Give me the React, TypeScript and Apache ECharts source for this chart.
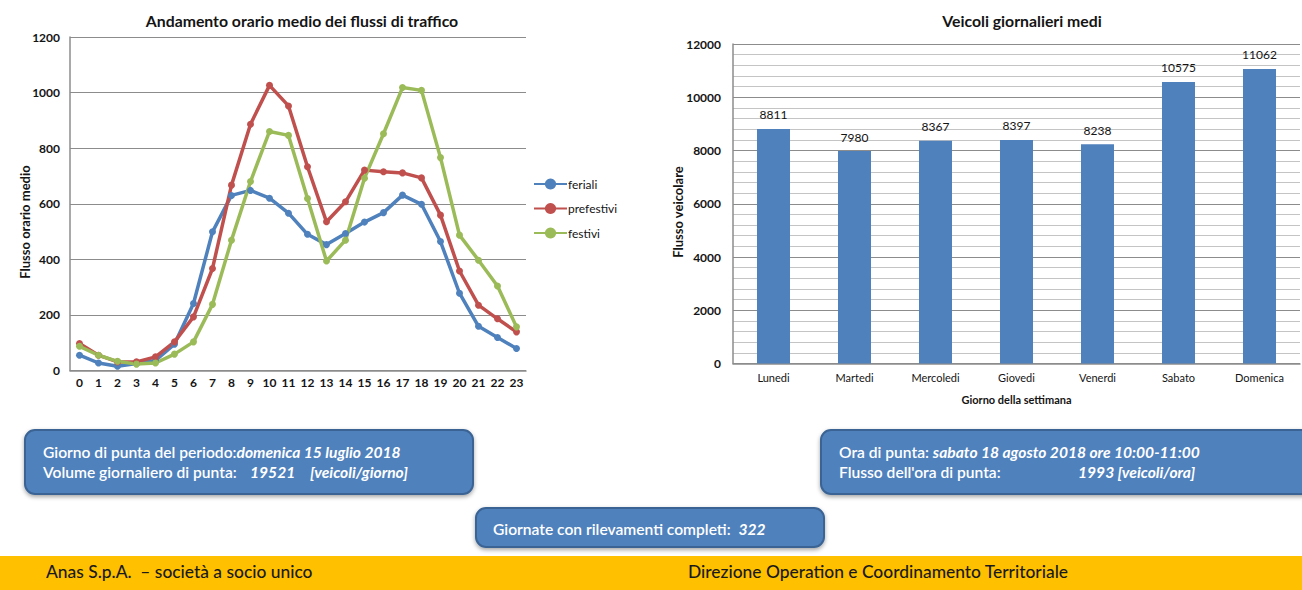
import React, { useEffect, useRef } from "react";
import * as echarts from "echarts";

// Hourly average traffic flow (vehicles/hour) by day type
const hours = ["0","1","2","3","4","5","6","7","8","9","10","11","12","13","14","15","16","17","18","19","20","21","22","23"];
const feriali = [55, 27, 15, 25, 36, 95, 241, 499, 630, 648, 620, 566, 490, 453, 493, 534, 568, 631, 598, 464, 278, 159, 119, 79];
const prefestivi = [97, 55, 31, 31, 49, 103, 193, 367, 667, 886, 1026, 952, 733, 535, 607, 721, 715, 711, 693, 559, 358, 235, 186, 139];
const festivi = [87, 55, 33, 23, 27, 59, 103, 238, 469, 680, 860, 846, 619, 394, 469, 692, 852, 1018, 1008, 766, 487, 397, 304, 157];

// Average daily vehicles by weekday
const giorni = ["Lunedi", "Martedi", "Mercoledi", "Giovedi", "Venerdi", "Sabato", "Domenica"];
const veicoliMedi = [8811, 7980, 8367, 8397, 8238, 10575, 11062];

const FONT = "Lato, 'DejaVu Sans', sans-serif";
const TXT = "#141414";
const BOX_FILL = "#4F81BD";
const BOX_STROKE = "#3A6494";
const BOX_FS = 15.6;

const box = (x: number, y: number, w: number, h: number) => ({
  type: "rect",
  shape: { x, y, width: w, height: h, r: 10 },
  style: {
    fill: BOX_FILL,
    stroke: BOX_STROKE,
    lineWidth: 2,
    shadowBlur: 4,
    shadowOffsetY: 2,
    shadowColor: "rgba(0,0,0,0.35)",
  },
  z: 10,
});

const rich = {
  r: { fill: "#fff", fontFamily: FONT, fontSize: BOX_FS, fontWeight: 600 },
  b: { fill: "#fff", fontFamily: FONT, fontSize: BOX_FS, fontWeight: "bold", fontStyle: "italic" },
};

const txt = (x: number, y: number, text: string, extra: any = {}) => ({
  type: "text",
  x,
  y,
  z: 11,
  style: {
    text,
    rich,
    fill: "#fff",
    fontFamily: FONT,
    fontSize: BOX_FS,
    fontWeight: 600,
    verticalAlign: "middle",
    ...extra,
  },
});

const axisName = (x: number, y: number, text: string) => ({
  type: "text",
  x,
  y,
  rotation: Math.PI / 2,
  style: {
    text,
    fill: TXT,
    fontFamily: FONT,
    fontSize: 13,
    fontWeight: "bold",
    align: "center",
    verticalAlign: "middle",
  },
});

const footerText = (x: number, text: string) => ({
  type: "text",
  x,
  y: 571,
  z: 6,
  style: {
    text,
    fill: "#1a1a1a",
    fontFamily: FONT,
    fontSize: 17.4,
    fontWeight: 500,
    verticalAlign: "middle",
  },
});

const chartTitle = (x: number, text: string) => ({
  type: "text",
  x,
  y: 20,
  style: {
    text,
    fill: TXT,
    fontFamily: FONT,
    fontSize: 15.8,
    fontWeight: "bold",
    align: "center",
    verticalAlign: "middle",
  },
});

export default function App() {
  const ref = useRef<HTMLDivElement>(null);

  useEffect(() => {
    if (!ref.current) return;
    const chart = echarts.init(ref.current, undefined, { renderer: "svg" });

    const lineSeries = (name: string, data: number[], color: string) => ({
      name,
      type: "line",
      xAxisIndex: 0,
      yAxisIndex: 0,
      data,
      symbol: "circle",
      symbolSize: 7,
      lineStyle: { color, width: 3.5 },
      itemStyle: { color },
    });

    const plain = (v: number) => String(v);

    chart.setOption({
      animation: false,
      backgroundColor: "#ffffff",
      textStyle: { fontFamily: FONT },
      legend: {
        orient: "vertical",
        left: 528,
        top: 173,
        itemGap: 12.5,
        itemWidth: 33,
        itemHeight: 14,
        data: ["feriali", "prefestivi", "festivi"],
        textStyle: { fontFamily: FONT, fontSize: 12, color: TXT, padding: [0, 0, 0, -4] },
      },
      grid: [
        { left: 70, top: 37, width: 456, height: 333.5 },
        { left: 733, top: 44, width: 567, height: 319.5 },
      ],
      xAxis: [
        {
          type: "category",
          gridIndex: 0,
          data: hours,
          boundaryGap: true,
          axisLine: { lineStyle: { color: "#8c8c8c", width: 1.5 } },
          axisTick: { show: false },
          axisLabel: { color: TXT, fontSize: 12, fontWeight: "bold", margin: 6, interval: 0 },
        },
        {
          type: "category",
          gridIndex: 1,
          data: giorni,
          name: "Giorno della settimana",
          nameLocation: "middle",
          nameGap: 30,
          nameTextStyle: { color: TXT, fontSize: 11, fontWeight: "bold", fontFamily: FONT },
          axisLine: { lineStyle: { color: "#8c8c8c", width: 1.5 } },
          axisTick: { show: false },
          axisLabel: { color: TXT, fontSize: 11, margin: 8, interval: 0 },
        },
      ],
      yAxis: [
        {
          type: "value",
          gridIndex: 0,
          min: 0,
          max: 1200,
          interval: 200,
          axisLine: { show: true, lineStyle: { color: "#8c8c8c", width: 1.5 } },
          axisTick: { show: false },
          axisLabel: { color: TXT, fontSize: 12, fontWeight: "bold", margin: 10, formatter: plain },
          splitLine: { lineStyle: { color: "#8c8c8c", width: 1.2 } },
        },
        {
          type: "value",
          gridIndex: 1,
          min: 0,
          max: 12000,
          interval: 2000,
          axisLine: { show: true, lineStyle: { color: "#8c8c8c", width: 1.5 } },
          axisTick: { show: false },
          minorTick: { show: false, splitNumber: 5 },
          minorSplitLine: { show: true, lineStyle: { color: "#c4c4c4", width: 1.2 } },
          axisLabel: { color: TXT, fontSize: 12, fontWeight: "bold", margin: 12, formatter: plain },
          splitLine: { lineStyle: { color: "#8c8c8c", width: 1.2 } },
        },
      ],
      series: [
        lineSeries("feriali", feriali, "#4F81BD"),
        lineSeries("prefestivi", prefestivi, "#C0504D"),
        lineSeries("festivi", festivi, "#9BBB59"),
        {
          name: "Veicoli giornalieri",
          type: "bar",
          xAxisIndex: 1,
          yAxisIndex: 1,
          data: veicoliMedi,
          barWidth: 33,
          itemStyle: { color: "#4F81BD" },
          label: {
            show: true,
            position: "top",
            distance: 8,
            color: TXT,
            fontSize: 12,
            fontFamily: FONT,
          },
        },
      ],
      graphic: [
        // chart titles
        chartTitle(302, "Andamento orario medio dei flussi di traffico"),
        chartTitle(1022, "Veicoli giornalieri medi"),

        // rotated value-axis names
        axisName(25, 222, "Flusso orario medio"),
        axisName(678, 212, "Flusso veicolare"),

        // summary boxes
        box(25, 430, 448, 64),
        txt(43, 452, "{r|Giorno di punta del periodo:}{b|domenica 15 luglio 2018}"),
        txt(43, 472, "Volume giornaliero di punta:"),
        txt(250, 472, "19521", { fontWeight: "bold", fontStyle: "italic" }),
        txt(310, 472, "[veicoli/giorno]", { fontWeight: "bold", fontStyle: "italic" }),

        box(821, 430, 500, 64),
        txt(839, 452, "{r|Ora di punta: }{b|sabato 18 agosto 2018 ore 10:00-11:00}"),
        txt(839, 472, "Flusso dell'ora di punta:"),
        txt(1078, 472, "1993 [veicoli/ora]", { fontWeight: "bold", fontStyle: "italic" }),

        box(476, 508, 348, 39),
        txt(493, 529, "{r|Giornate con rilevamenti completi:  }{b|322}"),

        // footer band
        {
          type: "rect",
          shape: { x: 0, y: 556, width: 1302, height: 34 },
          style: { fill: "#FFC000" },
          z: 5,
        },
        footerText(46, "Anas S.p.A.  – società a socio unico"),
        footerText(688, "Direzione Operation e Coordinamento Territoriale"),
      ],
    });

    return () => chart.dispose();
  }, []);

  return (
    <div
      ref={ref}
      style={{ position: "fixed", left: 0, top: 0, width: 1302, height: 590, background: "#fff" }}
    />
  );
}
